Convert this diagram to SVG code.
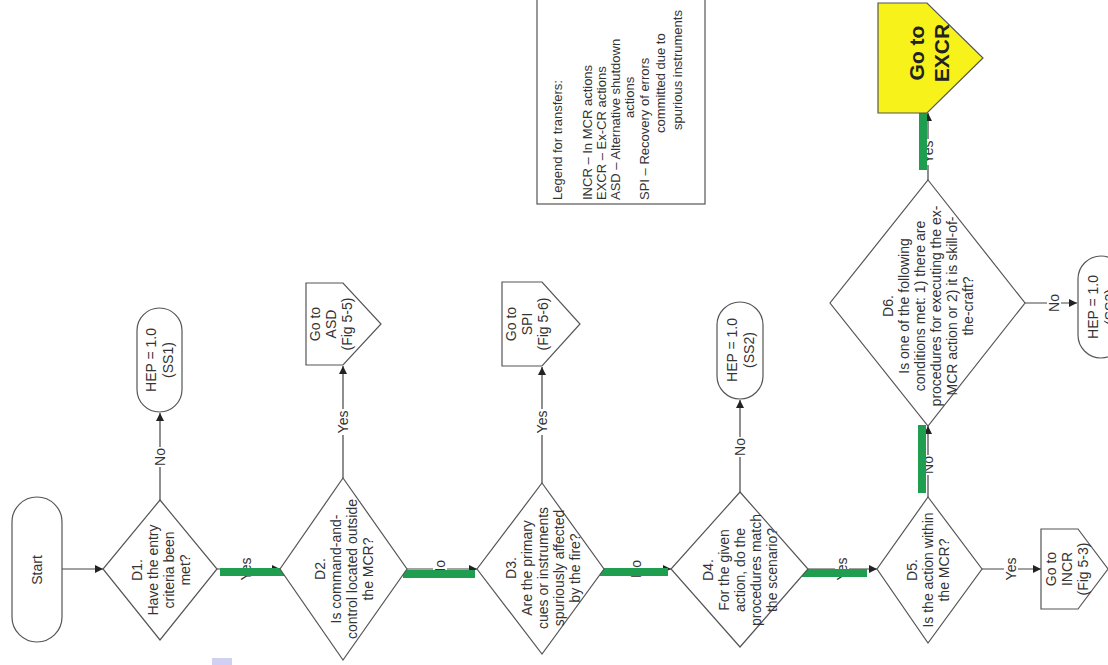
<svg xmlns="http://www.w3.org/2000/svg" width="1108" height="665" viewBox="0 0 1108 665">
<style>
.shape{fill:#fff;stroke:#555;stroke-width:1.2}
.t{font-family:"Liberation Sans",Arial,sans-serif;font-size:14px;fill:#333;text-anchor:middle}
.lg{font-family:"Liberation Sans",Arial,sans-serif;font-size:13px;fill:#333}
.ln{stroke:#444;stroke-width:1.2;fill:none}
.lb{fill:#fff}
.gr{fill:#1f9e50}
</style>
<defs>
<marker id="ah" viewBox="0 0 10 10" refX="10" refY="5" markerWidth="9" markerHeight="8" markerUnits="userSpaceOnUse" orient="auto">
<path d="M0,0 L10,5 L0,10 z" fill="#222"/>
</marker>
</defs>
<rect width="1108" height="665" fill="#fff"/>

<g id="legend">
<rect x="537" y="-1" width="168" height="205" fill="#fff" stroke="#555" stroke-width="1.2"/>
<text class="lg" transform="translate(562,200) rotate(-90)">Legend for transfers:</text>
<text class="lg" transform="translate(592,200) rotate(-90)">INCR – In MCR actions</text>
<text class="lg" transform="translate(606,200) rotate(-90)">EXCR – Ex-CR actions</text>
<text class="lg" transform="translate(620,200) rotate(-90)">ASD – Alternative shutdown</text>
<text class="lg" transform="translate(634,118) rotate(-90)">actions</text>
<text class="lg" transform="translate(649,200) rotate(-90)">SPI – Recovery of errors</text>
<text class="lg" transform="translate(665,133) rotate(-90)">committed due to</text>
<text class="lg" transform="translate(682,130) rotate(-90)">spurious instruments</text>
</g>

<g id="connectors">
<line class="ln" x1="62" y1="569" x2="103" y2="569" marker-end="url(#ah)"/>
<line class="ln" x1="160" y1="500" x2="160" y2="413" marker-end="url(#ah)"/>
<line class="ln" x1="217" y1="569" x2="280" y2="569" marker-end="url(#ah)"/>
<line class="ln" x1="343" y1="478" x2="343" y2="366" marker-end="url(#ah)"/>
<line class="ln" x1="407" y1="569" x2="477" y2="569" marker-end="url(#ah)"/>
<line class="ln" x1="542" y1="483" x2="542" y2="367" marker-end="url(#ah)"/>
<line class="ln" x1="604" y1="569" x2="671" y2="569" marker-end="url(#ah)"/>
<line class="ln" x1="740" y1="492" x2="740" y2="400" marker-end="url(#ah)"/>
<line class="ln" x1="808" y1="569" x2="877" y2="569" marker-end="url(#ah)"/>
<line class="ln" x1="982" y1="569" x2="1041" y2="569" marker-end="url(#ah)"/>
<line class="ln" x1="928" y1="497" x2="928" y2="426" marker-end="url(#ah)"/>
<line class="ln" x1="1025" y1="303" x2="1077" y2="303" marker-end="url(#ah)"/>
<line class="ln" x1="928" y1="180" x2="928" y2="113" marker-end="url(#ah)"/>
<g id="labels">
<rect class="lb" x="153" y="447" width="14" height="20"/>
<text class="t" transform="translate(160,457) rotate(-90)" y="5">No</text>
<rect class="lb" x="239" y="556" width="14" height="26"/>
<text class="t" transform="translate(246,569) rotate(-90)" y="5">Yes</text>
<rect class="lb" x="336" y="409" width="14" height="26"/>
<text class="t" transform="translate(343,422) rotate(-90)" y="5">Yes</text>
<rect class="lb" x="433" y="559" width="14" height="20"/>
<text class="t" transform="translate(440,569) rotate(-90)" y="5">No</text>
<rect class="lb" x="535" y="409" width="14" height="26"/>
<text class="t" transform="translate(542,422) rotate(-90)" y="5">Yes</text>
<rect class="lb" x="629" y="559" width="14" height="20"/>
<text class="t" transform="translate(636,569) rotate(-90)" y="5">No</text>
<rect class="lb" x="733" y="437" width="14" height="20"/>
<text class="t" transform="translate(740,447) rotate(-90)" y="5">No</text>
<rect class="lb" x="835" y="556" width="14" height="26"/>
<text class="t" transform="translate(842,569) rotate(-90)" y="5">Yes</text>
<rect class="lb" x="1004" y="556" width="14" height="26"/>
<text class="t" transform="translate(1011,569) rotate(-90)" y="5">Yes</text>
<rect class="lb" x="921" y="455" width="14" height="20"/>
<text class="t" transform="translate(928,465) rotate(-90)" y="5">No</text>
<rect class="lb" x="1047" y="293" width="14" height="20"/>
<text class="t" transform="translate(1054,303) rotate(-90)" y="5">No</text>
<rect class="lb" x="921" y="139" width="14" height="26"/>
<text class="t" transform="translate(928,152) rotate(-90)" y="5">Yes</text>
</g>
<g id="highlights">
<rect class="gr" x="220" y="568" width="70" height="8"/>
<rect class="gr" x="403" y="570" width="72" height="8"/>
<rect class="gr" x="600" y="568" width="68" height="8"/>
<rect class="gr" x="798" y="569" width="69" height="8"/>
<rect class="gr" x="918" y="425" width="8" height="68"/>
<rect class="gr" x="919" y="113" width="8" height="57"/>
</g>
</g>

<g id="start">
<rect class="shape" x="12" y="497" width="50" height="145" rx="25"/>
<text class="t" transform="translate(37,570) rotate(-90)" y="5">Start</text>
</g>

<g id="d1">
<polygon class="shape" points="160,500 217,569 160,640 103,569"/>
<text class="t" transform="translate(161,570) rotate(-90)"><tspan x="0" y="-19">D1.</tspan><tspan x="0" y="-3">Have the entry</tspan><tspan x="0" y="13">criteria been</tspan><tspan x="0" y="29">met?</tspan></text>
</g>

<g id="hep1">
<rect class="shape" x="137" y="308" width="45" height="104" rx="22.5"/>
<text class="t" transform="translate(159,360) rotate(-90)"><tspan x="0" y="-3.5">HEP = 1.0</tspan><tspan x="0" y="13.5">(SS1)</tspan></text>
</g>

<g id="d2">
<polygon class="shape" points="343,478 407,569 343,660 280,569"/>
<text class="t" transform="translate(344,569) rotate(-90)"><tspan x="0" y="-19">D2.</tspan><tspan x="0" y="-3">Is command-and-</tspan><tspan x="0" y="13">control located outside</tspan><tspan x="0" y="29">the MCR?</tspan></text>
</g>

<g id="asd">
<path class="shape" d="M306,283 L343,283 L381,324 L343,365 L306,365 Z"/>
<text class="t" transform="translate(331,324) rotate(-90)"><tspan x="0" y="-11">Go to</tspan><tspan x="0" y="5">ASD</tspan><tspan x="0" y="21">(Fig 5-5)</tspan></text>
</g>

<g id="d3">
<polygon class="shape" points="542,483 604,569 542,654 477,569"/>
<text class="t" transform="translate(543,568) rotate(-90)"><tspan x="0" y="-27">D3.</tspan><tspan x="0" y="-11">Are the primary</tspan><tspan x="0" y="5">cues or instruments</tspan><tspan x="0" y="21">spuriously affected</tspan><tspan x="0" y="37">by the fire?</tspan></text>
</g>

<g id="spi">
<path class="shape" d="M502,282 L542,282 L580,324 L542,366 L502,366 Z"/>
<text class="t" transform="translate(527,324) rotate(-90)"><tspan x="0" y="-11">Go to</tspan><tspan x="0" y="5">SPI</tspan><tspan x="0" y="21">(Fig 5-6)</tspan></text>
</g>

<g id="d4">
<polygon class="shape" points="740,492 808,569 740,647 671,569"/>
<text class="t" transform="translate(740,570) rotate(-90)"><tspan x="0" y="-27">D4.</tspan><tspan x="0" y="-11">For the given</tspan><tspan x="0" y="5">action, do the</tspan><tspan x="0" y="21">procedures match</tspan><tspan x="0" y="37">the scenario?</tspan></text>
</g>

<g id="hep2">
<rect class="shape" x="717" y="302" width="46" height="97" rx="23"/>
<text class="t" transform="translate(740,350) rotate(-90)"><tspan x="0" y="-3.5">HEP = 1.0</tspan><tspan x="0" y="13.5">(SS2)</tspan></text>
</g>

<g id="d5">
<polygon class="shape" points="928,497 982,569 928,643 877,569"/>
<text class="t" transform="translate(928,570) rotate(-90)"><tspan x="0" y="-11">D5.</tspan><tspan x="0" y="5">Is the action within</tspan><tspan x="0" y="21">the MCR?</tspan></text>
</g>

<g id="incr">
<path class="shape" d="M1041,529 L1078,529 L1108,569 L1078,609 L1041,609 Z"/>
<text class="t" transform="translate(1067,569) rotate(-90)"><tspan x="0" y="-11">Go to</tspan><tspan x="0" y="5">INCR</tspan><tspan x="0" y="21">(Fig 5-3)</tspan></text>
</g>

<g id="d6">
<polygon class="shape" points="928,180 1025,303 928,426 830,303"/>
<text class="t" transform="translate(928,306) rotate(-90)"><tspan x="0" y="-35">D6.</tspan><tspan x="0" y="-19">Is one of the following</tspan><tspan x="0" y="-3">conditions met: 1) there are</tspan><tspan x="0" y="13">procedures for executing the ex-</tspan><tspan x="0" y="29">MCR action or 2) it is skill-of-</tspan><tspan x="0" y="45">the-craft?</tspan></text>
</g>

<g id="hep3">
<rect class="shape" x="1078" y="256" width="46" height="102" rx="23"/>
<text class="t" transform="translate(1101,307) rotate(-90)"><tspan x="0" y="-3.5">HEP = 1.0</tspan><tspan x="0" y="13.5">(SS3)</tspan></text>
</g>

<g id="excr">
<path d="M878,3 L927,3 L983,58 L927,113 L878,113 Z" fill="#f7f21a" stroke="#555" stroke-width="1.2"/>
<text transform="translate(928,53) rotate(-90)" style="font-family:'Liberation Sans',Arial,sans-serif;font-size:21px;font-weight:bold;fill:#222;text-anchor:middle"><tspan x="0" y="-4">Go to</tspan><tspan x="0" y="21">EXCR</tspan></text>
</g>

<rect x="212" y="658" width="20" height="7" fill="#cfd0f2"/>
</svg>
